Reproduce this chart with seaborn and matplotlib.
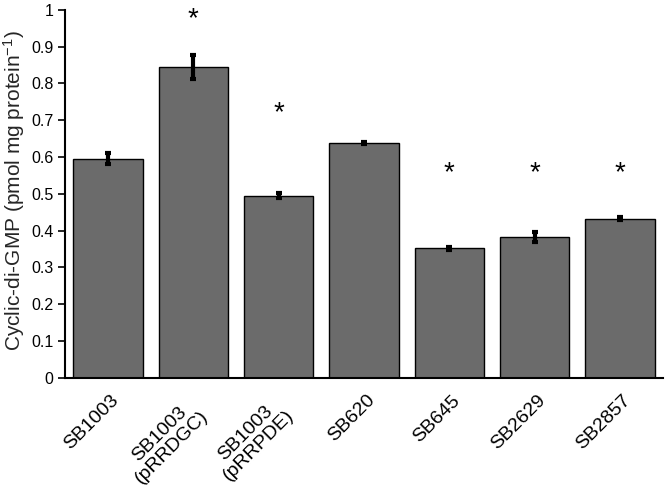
import matplotlib
matplotlib.use("Agg")
import matplotlib.pyplot as plt
import seaborn as sns
import pandas as pd
import numpy as np
from matplotlib.ticker import FuncFormatter
from matplotlib.transforms import ScaledTranslation

strains = ["SB1003", "SB1003\n(pRRDGC)", "SB1003\n(pRRPDE)", "SB620", "SB645", "SB2629", "SB2857"]
values = [0.595, 0.845, 0.495, 0.638, 0.352, 0.383, 0.433]
errors = [0.015, 0.032, 0.006, 0.003, 0.004, 0.013, 0.004]
significant = [False, True, True, False, True, True, True]
star_heights = [0, 0.975, 0.72, 0, 0.555, 0.555, 0.555]

sns.set_theme(style="white")
plt.rcParams['font.family'] = ['Liberation Sans', 'DejaVu Sans']
plt.rcParams['mathtext.fontset'] = 'custom'
plt.rcParams['mathtext.rm'] = 'Liberation Sans'
plt.rcParams['mathtext.it'] = 'Liberation Sans:italic'
plt.rcParams['mathtext.bf'] = 'Liberation Sans:bold'

df = pd.DataFrame({"strain": strains, "value": values})

fig = plt.figure(figsize=(6.66, 4.92), dpi=100)
ax = fig.add_axes([0.098, 0.232, 0.897, 0.748])

sns.barplot(data=df, x="strain", y="value", color="#6b6b6b", saturation=1,
            edgecolor="black", linewidth=1.0, width=0.81, ax=ax)
xs = np.arange(len(strains))
ax.errorbar(xs, values, yerr=errors, fmt="none", ecolor="black",
            elinewidth=3, capsize=2.5, capthick=3)

for x, sig, h in zip(xs, significant, star_heights):
    if sig:
        ax.text(x, h, "*", ha="center", va="center", fontsize=20, color="black")

ax.set_ylim(0, 1)
ax.set_xlim(-0.5, len(strains) - 0.5)
ax.set_yticks(np.arange(0, 1.01, 0.1))
ax.yaxis.set_major_formatter(FuncFormatter(lambda v, p: f"{v:.1f}".rstrip("0").rstrip(".") if v != 0 else "0"))
ax.set_ylabel("Cyclic-di-GMP (pmol mg protein$^{\\mathregular{-1}}$)", fontsize=15)
ax.yaxis.set_label_coords(-0.064, 0.508)
ax.set_xlabel("")
ax.tick_params(axis="y", which="both", left=True, direction="out", length=5, width=1.2,
               labelsize=11.5, colors="black")
ax.tick_params(axis="x", bottom=False, length=0, labelsize=14, colors="black", pad=0)
for lab in ax.get_xticklabels():
    multi = "\n" in lab.get_text()
    dx, dy = (6, -29) if multi else (8, -20)
    lab.set_rotation(45)
    lab.set_ha("right")
    lab.set_va("center")
    lab.set_rotation_mode("anchor")
    lab.set_multialignment("center")
    lab.set_linespacing(1.05)
    lab.set_transform(lab.get_transform() + ScaledTranslation(dx / 100, dy / 100, fig.dpi_scale_trans))
for s in ["top", "right"]:
    ax.spines[s].set_visible(False)
for s in ["left", "bottom"]:
    ax.spines[s].set_color("black")
    ax.spines[s].set_linewidth(1.5)

fig.savefig("out.png", dpi=100)
